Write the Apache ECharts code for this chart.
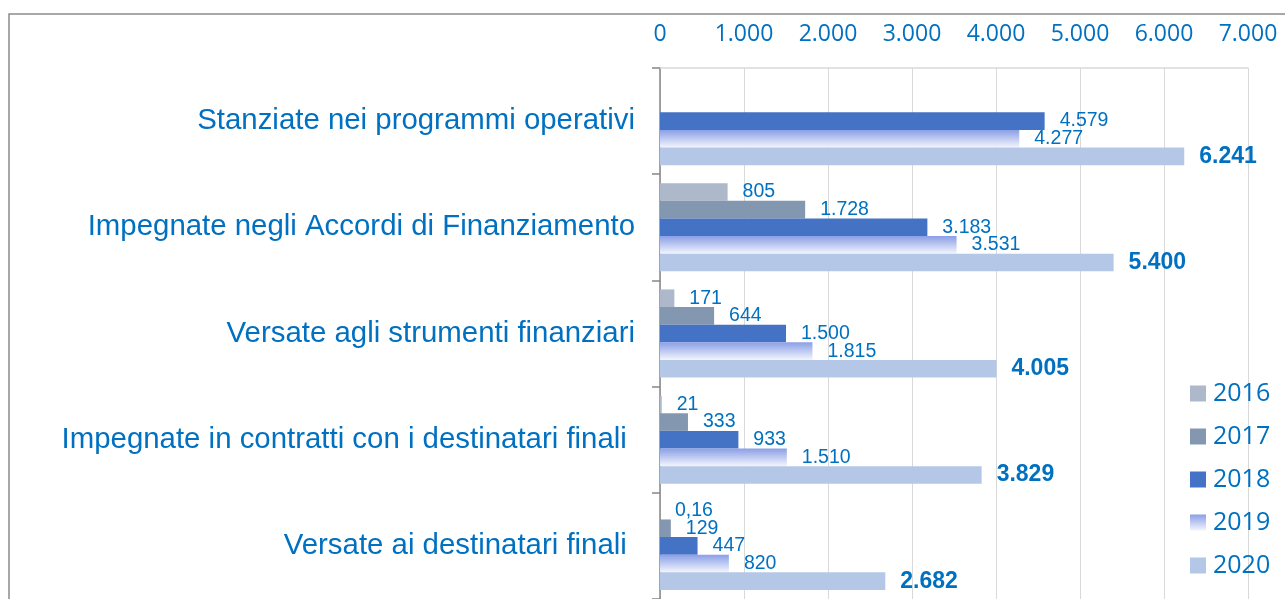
<!DOCTYPE html>
<html>
<head>
<meta charset="utf-8">
<script src="https://cdn.jsdelivr.net/npm/echarts@6/dist/echarts.min.js"></script>
<style>
  html, body { margin: 0; padding: 0; background: #fff; }
  #main { width: 1285px; height: 599px; }
</style>
</head>
<body>
<div id="main"></div>
<script>
// categorie (dall'alto verso il basso)
var categories = [
  'Stanziate nei programmi operativi',
  'Impegnate negli Accordi di Finanziamento',
  'Versate agli strumenti finanziari',
  'Impegnate in contratti con i destinatari finali ',
  'Versate ai destinatari finali '
];
var years = ['2016', '2017', '2018', '2019', '2020'];
// milioni di euro
var v2016 = [null, 805, 171, 21, 0.16];
var v2017 = [null, 1728, 644, 333, 129];
var v2018 = [4579, 3183, 1500, 933, 447];
var v2019 = [4277, 3531, 1815, 1510, 820];
var v2020 = [6241, 5400, 4005, 3829, 2682];
var xTicks = [0, 1000, 2000, 3000, 4000, 5000, 6000, 7000];

var blu = '#0070c0';

// formato italiano: punto per le migliaia, virgola per i decimali
function fmt(v) {
  if (v == null) return '';
  var parts = String(v).split('.');
  var intPart = parts[0].replace(/\B(?=(\d{3})+(?!\d))/g, '.');
  return parts.length > 1 ? intPart + ',' + parts[1] : intPart;
}

var colori = [
  '#adb9ca',
  '#8497b0',
  '#4472c4',
  new echarts.graphic.LinearGradient(0, 0, 0, 1, [
    { offset: 0, color: '#8a9fe6' },
    { offset: 1, color: '#f3f5fd' }
  ]),
  '#b4c7e7'
];
var dati = [v2016, v2017, v2018, v2019, v2020];

var series = years.map(function (y, i) {
  var bold = i === 4;
  return {
    name: y,
    type: 'bar',
    data: dati[i],
    barGap: 0,
    barCategoryGap: '17%',
    itemStyle: { color: colori[i] },
    label: {
      show: true,
      position: 'right',
      distance: 15,
      color: blu,
      fontFamily: 'Liberation Sans, Arial, sans-serif',
      fontSize: bold ? 23 : 19.5,
      fontWeight: bold ? 'bold' : 'normal',
      formatter: function (p) { return fmt(p.value); }
    }
  };
});

var chart = echarts.init(document.getElementById('main'));
chart.setOption({
  animation: false,
  graphic: [{
    type: 'polyline',
    shape: { points: [[9, 640], [9, 14], [1290, 14]] },
    style: { stroke: '#8c8c8c', lineWidth: 1.5, fill: null }
  }],
  grid: { left: 660, right: 37, top: 68, height: 535 },
  legend: {
    data: years,
    orient: 'vertical',
    left: 1185,
    top: 376,
    itemWidth: 16,
    itemHeight: 16,
    itemGap: 18,
    icon: 'rect',
    textStyle: {
      color: blu,
      fontFamily: 'Open Sans, sans-serif',
      fontSize: 25,
      lineHeight: 25,
      padding: [0, 0, 0, 2]
    }
  },
  xAxis: {
    type: 'value',
    position: 'top',
    min: xTicks[0],
    max: xTicks[xTicks.length - 1],
    interval: 1000,
    axisLine: { show: true, lineStyle: { color: '#d9d9d9', width: 1.5 } },
    axisTick: { show: false },
    splitLine: { show: true, lineStyle: { color: '#d9d9d9', width: 1 } },
    axisLabel: {
      color: blu,
      fontFamily: 'Open Sans, sans-serif',
      fontSize: 23,
      margin: 22,
      formatter: function (v) { return fmt(v); }
    }
  },
  yAxis: {
    type: 'category',
    data: categories,
    inverse: true,
    axisLine: { show: true, lineStyle: { color: '#868686', width: 1.5 } },
    axisTick: { show: true, length: 8, lineStyle: { color: '#868686', width: 1.5 } },
    axisLabel: {
      color: blu,
      fontFamily: 'Liberation Sans, Arial, sans-serif',
      fontSize: 29.4,
      margin: 25
    }
  },
  series: series
});
</script>
</body>
</html>
